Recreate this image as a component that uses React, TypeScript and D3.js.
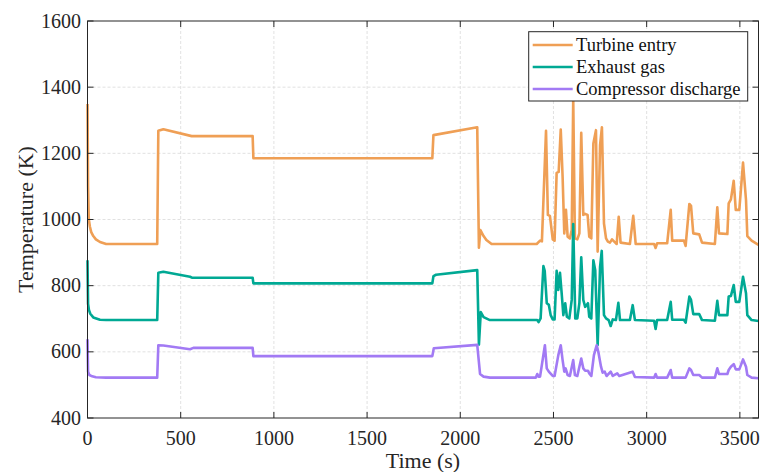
import React, { useEffect } from 'react';
import * as d3 from 'd3';

// time (s), temperature (K)
const turbineEntry: [number, number][] = [
  [0, 1349], [3, 1100], [7, 1000], [13, 978], [20, 962], [31, 950], [45, 940], [67, 932],
  [100, 926], [374, 926],
  [380, 1268], [407, 1273], [559, 1252], [886, 1252], [890, 1185], [1850, 1185], [1856, 1255],
  [2091, 1279], [2100, 915], [2108, 968], [2125, 950], [2140, 938], [2168, 926], [2410, 926],
  [2428, 936], [2438, 934], [2460, 1268], [2470, 1014], [2481, 1011], [2496, 940], [2506, 936],
  [2517, 1141], [2528, 1144], [2539, 1272], [2549, 1129], [2558, 958], [2567, 1029], [2576, 948],
  [2588, 943], [2598, 968], [2606, 1365], [2615, 943], [2628, 940], [2639, 958], [2649, 1262],
  [2660, 1014], [2670, 1017], [2683, 1014], [2692, 948], [2703, 943], [2714, 1230], [2728, 1270],
  [2737, 903], [2750, 1225], [2760, 1279], [2771, 988], [2782, 943], [2792, 933], [2803, 930],
  [2814, 940], [2826, 933], [2839, 926], [2850, 1008], [2860, 930], [2910, 926], [2928, 1011],
  [2941, 926], [3040, 926], [3048, 914], [3056, 928], [3110, 928], [3129, 1029], [3137, 936],
  [3200, 936], [3209, 920], [3229, 1047], [3238, 1041], [3250, 958], [3282, 955], [3297, 930],
  [3366, 926], [3379, 1037], [3388, 958], [3433, 956], [3440, 1049], [3452, 1061], [3467, 1117],
  [3478, 1029], [3497, 1029], [3517, 1172], [3533, 1059], [3540, 950], [3563, 936], [3600, 923],
];

const exhaustGas: [number, number][] = [
  [0, 877], [3, 745], [8, 726], [15, 715], [31, 704], [67, 697], [100, 696], [374, 696],
  [380, 839], [407, 842], [550, 827], [560, 824], [886, 824], [890, 807], [1850, 807], [1856, 829],
  [1870, 833], [2091, 847], [2100, 622], [2110, 720], [2125, 705], [2159, 696], [2413, 696],
  [2420, 690], [2431, 701], [2446, 859], [2453, 845], [2464, 747], [2475, 742], [2485, 711],
  [2496, 698], [2506, 698], [2517, 845], [2526, 787], [2535, 839], [2544, 777], [2553, 711],
  [2563, 747], [2572, 706], [2585, 701], [2598, 757], [2606, 986], [2617, 701], [2628, 701],
  [2639, 747], [2649, 886], [2660, 757], [2670, 736], [2685, 747], [2692, 706], [2703, 701],
  [2714, 877], [2724, 847], [2737, 621], [2750, 857], [2759, 905], [2771, 711], [2782, 701],
  [2796, 696], [2807, 678], [2818, 698], [2835, 696], [2848, 748], [2857, 696], [2910, 696],
  [2925, 741], [2937, 696], [3040, 694], [3048, 669], [3056, 696], [3110, 696], [3129, 751],
  [3137, 697], [3200, 697], [3209, 688], [3229, 767], [3238, 757], [3250, 714], [3282, 714],
  [3297, 696], [3366, 694], [3379, 754], [3388, 711], [3433, 711], [3440, 767], [3452, 769],
  [3467, 802], [3478, 751], [3497, 751], [3517, 827], [3533, 777], [3540, 711], [3563, 696],
  [3600, 693],
];

const compressorDischarge: [number, number][] = [
  [0, 638], [3, 540], [10, 530], [25, 526], [45, 523], [100, 522], [374, 522], [380, 620],
  [407, 619], [550, 608], [568, 612], [886, 612], [890, 587], [1850, 587], [1858, 611],
  [2091, 621], [2106, 533], [2125, 525], [2159, 522], [2405, 522], [2413, 533], [2420, 525],
  [2428, 525], [2454, 620], [2464, 550], [2475, 540], [2496, 527], [2506, 527], [2526, 590],
  [2539, 620], [2549, 575], [2558, 540], [2565, 550], [2576, 530], [2588, 527], [2606, 575],
  [2615, 530], [2628, 527], [2649, 580], [2660, 550], [2670, 543], [2685, 543], [2692, 535],
  [2703, 527], [2717, 590], [2732, 620], [2742, 596], [2755, 555], [2764, 537], [2775, 540],
  [2785, 527], [2807, 540], [2818, 527], [2842, 535], [2853, 527], [2925, 540], [2937, 524],
  [3040, 522], [3048, 533], [3056, 522], [3110, 522], [3129, 545], [3137, 522], [3209, 522],
  [3229, 550], [3238, 545], [3250, 530], [3282, 530], [3297, 522], [3366, 522], [3379, 550],
  [3388, 533], [3433, 533], [3440, 545], [3452, 555], [3467, 563], [3478, 547], [3497, 547],
  [3517, 577], [3533, 555], [3540, 530], [3563, 522], [3600, 520],
];

const seriesNames = ['Turbine entry', 'Exhaust gas', 'Compressor discharge'];
const seriesColors = ['#EF9F55', '#00A994', '#A27AF4'];
const xTicks = [0, 500, 1000, 1500, 2000, 2500, 3000, 3500];
const yTicks = [400, 600, 800, 1000, 1200, 1400, 1600];

const W = 761;
const H = 472;
const margin = { top: 21, right: 2.5, bottom: 54, left: 87.5 };
const FONT = '"Liberation Serif", "Times New Roman", serif';

export default function App() {
  useEffect(() => {
    document.body.style.margin = '0';
  }, []);

  const iw = W - margin.left - margin.right;
  const ih = H - margin.top - margin.bottom;

  const x = d3.scaleLinear().domain([0, 3600]).range([0, iw]);
  const y = d3.scaleLinear().domain([400, 1600]).range([ih, 0]);

  const line = d3.line<[number, number]>()
    .x(d => x(d[0]))
    .y(d => y(d[1]));

  const allSeries = [turbineEntry, exhaustGas, compressorDischarge];
  const axisColor = '#262626';
  const tickLen = 6;

  return (
    <svg width={W} height={H} style={{ display: 'block', background: '#fff' }} fontFamily={FONT}>
      <g transform={`translate(${margin.left},${margin.top})`}>
        {/* сетка */}
        {xTicks.slice(1).map(t => (
          <line key={'gx' + t} x1={x(t)} x2={x(t)} y1={0} y2={ih}
            stroke="#d9d9d9" strokeWidth={0.8} strokeDasharray="3,2" />
        ))}
        {yTicks.slice(1, -1).map(t => (
          <line key={'gy' + t} x1={0} x2={iw} y1={y(t)} y2={y(t)}
            stroke="#d9d9d9" strokeWidth={0.8} strokeDasharray="3,2" />
        ))}

        {/* линии */}
        {allSeries.map((s, i) => (
          <path key={seriesNames[i]} d={line(s) || ''} fill="none"
            stroke={seriesColors[i]} strokeWidth={2.6} strokeLinejoin="round" />
        ))}

        {/* рамка и засечки */}
        <rect x={0} y={0} width={iw} height={ih} fill="none" stroke={axisColor} strokeWidth={1} />
        {xTicks.map(t => (
          <g key={'tx' + t}>
            <line x1={x(t)} x2={x(t)} y1={ih} y2={ih - tickLen} stroke={axisColor} />
            <line x1={x(t)} x2={x(t)} y1={0} y2={tickLen} stroke={axisColor} />
            <text x={x(t)} y={ih + 26.5} textAnchor="middle" fontSize={20} fill="#262626">{t}</text>
          </g>
        ))}
        {yTicks.map(t => (
          <g key={'ty' + t}>
            <line x1={0} x2={tickLen} y1={y(t)} y2={y(t)} stroke={axisColor} />
            <line x1={iw} x2={iw - tickLen} y1={y(t)} y2={y(t)} stroke={axisColor} />
            <text x={-6.5} y={y(t)} dy="0.33em" textAnchor="end" fontSize={20} fill="#262626">{t}</text>
          </g>
        ))}

        {/* подписи осей */}
        <text x={iw / 2} y={ih + 50} textAnchor="middle" fontSize={22} fill="#262626">Time (s)</text>
        <text transform={`translate(${-62},${ih / 2}) rotate(-90)`} dy="0.33em" textAnchor="middle"
          fontSize={22} fill="#262626">Temperature (K)</text>

        {/* легенда */}
        <g transform={`translate(${528.7 - margin.left},${31.7 - margin.top})`}>
          <rect x={0} y={0} width={219} height={69.3} fill="#fff" stroke={axisColor} strokeWidth={1} />
          {seriesNames.map((n, i) => (
            <g key={n} transform={`translate(0,${13.3 + i * 22})`}>
              <line x1={4} x2={44} y1={0} y2={0} stroke={seriesColors[i]} strokeWidth={2.6} />
              <text x={47.3} y={0} dy="0.33em" fontSize={18.5} fill="#111">{n}</text>
            </g>
          ))}
        </g>
      </g>
    </svg>
  );
}
